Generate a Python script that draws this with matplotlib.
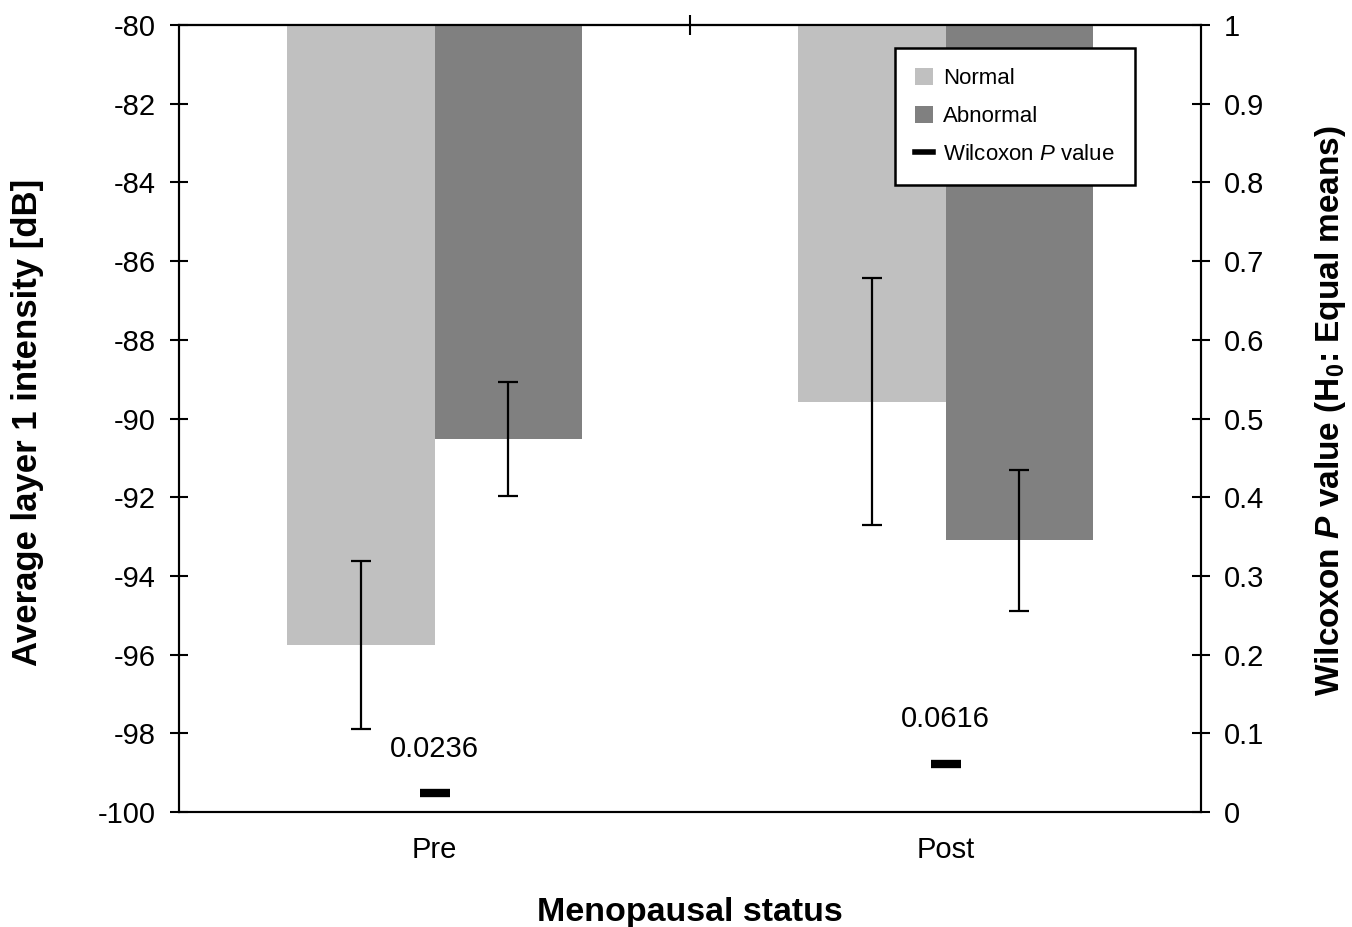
import matplotlib
matplotlib.use("Agg")
import matplotlib.pyplot as plt
import numpy as np
from matplotlib.patches import Patch
from matplotlib.lines import Line2D

plt.rcParams['font.family'] = ['Liberation Sans', 'DejaVu Sans']
plt.rcParams['mathtext.fontset'] = 'custom'
plt.rcParams['mathtext.rm'] = 'Liberation Sans'
plt.rcParams['mathtext.it'] = 'Liberation Sans:italic'
plt.rcParams['mathtext.bf'] = 'Liberation Sans:bold'
plt.rcParams['mathtext.bfit'] = 'Liberation Sans:italic:bold'

categories = ["Pre", "Post"]
normal_vals = [-95.75, -89.57]
abnormal_vals = [-90.52, -93.1]
normal_err = [2.13, 3.13]
abnormal_err = [1.44, 1.78]
p_values = [0.0236, 0.0616]
p_labels = ["0.0236", "0.0616"]
left_ticks = [-100, -98, -96, -94, -92, -90, -88, -86, -84, -82, -80]
right_ticks = [0, 0.1, 0.2, 0.3, 0.4, 0.5, 0.6, 0.7, 0.8, 0.9, 1]
right_ticklabels = ["0", "0.1", "0.2", "0.3", "0.4", "0.5", "0.6", "0.7", "0.8", "0.9", "1"]

c_normal = "#c0c0c0"
c_abnormal = "#808080"

fig = plt.figure(figsize=(13.52, 9.27), dpi=100)
ax = fig.add_axes([179/1352, 1 - 812/927, (1201-179)/1352, (812-25)/927])

x = np.arange(len(categories))
w = 0.288
base = -80
ax.bar(x - w/2, np.array(normal_vals) - base, bottom=base, width=w, color=c_normal, zorder=2)
ax.bar(x + w/2, np.array(abnormal_vals) - base, bottom=base, width=w, color=c_abnormal, zorder=2)
ax.errorbar(x - w/2, normal_vals, yerr=normal_err, fmt='none', ecolor='black',
            elinewidth=1.6, capsize=7, capthick=1.6, zorder=3)
ax.errorbar(x + w/2, abnormal_vals, yerr=abnormal_err, fmt='none', ecolor='black',
            elinewidth=1.6, capsize=7, capthick=1.6, zorder=3)

ax.set_xlim(-0.5, 1.5)
ax.set_ylim(-100, -80)
ax.set_yticks(left_ticks)
ax.set_yticklabels([str(t) for t in left_ticks])
ax.tick_params(axis='y', direction='inout', length=13, width=1.5, labelsize=21, pad=10)
ax.set_xticks(x)
ax.set_xticklabels(categories)
ax.tick_params(axis='x', length=0, labelsize=21, pad=17)
for s in ax.spines.values():
    s.set_linewidth(1.5)

# category boundary tick on top axis
sec = ax.secondary_xaxis('top')
sec.set_xticks([0.5])
sec.set_xticklabels([])
sec.tick_params(direction='inout', length=14, width=1.5)
sec.spines['top'].set_linewidth(1.5)

ax.set_ylabel("Average layer 1 intensity [dB]", fontsize=25, fontweight='bold', va='center')
ax.yaxis.set_label_coords((28 - 179) / 1022, 0.495)
ax.set_xlabel("Menopausal status", fontsize=24.5, fontweight='bold', va='center')
ax.xaxis.set_label_coords(0.5, -(913 - 812) / 787)

ax2 = ax.twinx()
ax2.set_ylim(0, 1)
ax2.set_yticks(right_ticks)
ax2.set_yticklabels(right_ticklabels)
ax2.tick_params(axis='y', direction='inout', length=13, width=1.5, labelsize=21, pad=10)
for s in ax2.spines.values():
    s.set_linewidth(1.5)
ax2.plot(x, p_values, linestyle='none', marker='_', markersize=22, markeredgewidth=6,
         color='black', zorder=4)
for xi, pv, lab in zip(x, p_values, p_labels):
    ax2.annotate(lab, (xi, pv), xytext=(0, 32), textcoords='offset points',
                 ha='center', va='center', fontsize=21)
ax2.set_ylabel(r"Wilcoxon $\mathbfit{P}$ value (H$_{\mathbf{0}}$: Equal means)",
               fontsize=24, fontweight='bold', va='center', rotation=90)
ax2.yaxis.set_label_coords((1330 - 179) / 1022, 0.51)

handles = [Patch(facecolor=c_normal, edgecolor='none'),
           Patch(facecolor=c_abnormal, edgecolor='none'),
           Line2D([0], [0], color='black', linewidth=4)]
labels = ["Normal", "Abnormal", r"Wilcoxon $\mathit{P}$ value"]
leg = ax2.legend(handles, labels, loc='upper right', bbox_to_anchor=(0.935, 0.971),
                 borderaxespad=0, fontsize=16, frameon=True, fancybox=False,
                 framealpha=1, edgecolor='black', handlelength=0.8, handleheight=0.8,
                 handletextpad=0.45, labelspacing=0.75, borderpad=0.9)
leg.get_frame().set_linewidth(1.8)

fig.savefig("out.png", dpi=100)
